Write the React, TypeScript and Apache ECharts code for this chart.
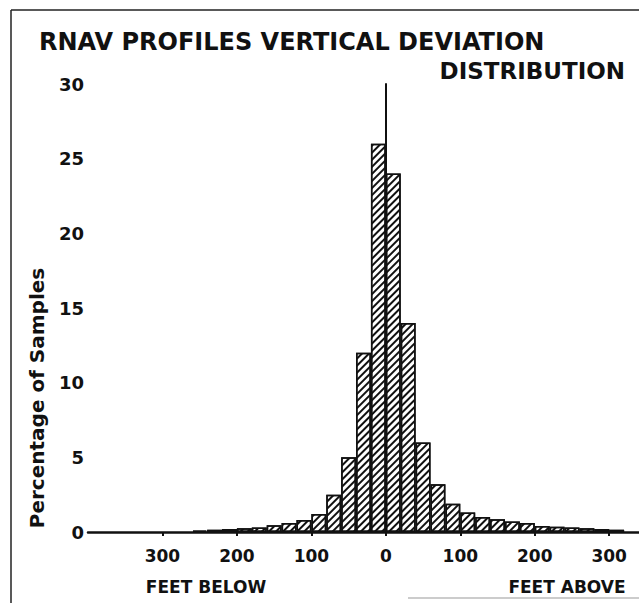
import React, { useEffect, useRef } from "react";
import * as echarts from "echarts";

// Bin centres (feet; negative = below profile), bin width 20 ft
const binCenters = [
  -250, -230, -210, -190, -170, -150, -130, -110, -90, -70, -50, -30, -10,
  10, 30, 50, 70, 90, 110, 130, 150, 170, 190, 210, 230, 250, 270, 290, 310,
];
// Percentage of samples in each bin
const percentages = [
  0.1, 0.15, 0.2, 0.25, 0.3, 0.45, 0.6, 0.8, 1.2, 2.5, 5, 12, 26,
  24, 14, 6, 3.2, 1.9, 1.3, 1.0, 0.85, 0.7, 0.6, 0.4, 0.35, 0.3, 0.25, 0.2, 0.15,
];
const xTicks = [-300, -200, -100, 0, 100, 200, 300];
const yTicks = [0, 5, 10, 15, 20, 25, 30];

const titleLine1 = "RNAV PROFILES VERTICAL DEVIATION";
const titleLine2 = "DISTRIBUTION";
const yName = "Percentage of Samples";
const belowLabel = "FEET BELOW";
const aboveLabel = "FEET ABOVE";

const FONT = "'DejaVu Sans', 'Liberation Sans', sans-serif";
const INK = "#111";

export default function App() {
  const ref = useRef<HTMLDivElement>(null);

  useEffect(() => {
    if (!ref.current) return;
    const chart = echarts.init(ref.current, undefined, { renderer: "svg" });
    const data = binCenters.map((c, i) => [c, percentages[i]]);
    chart.setOption({
      animation: false,
      backgroundColor: "#fff",
      grid: { left: 88, right: 0, top: 84, bottom: 71 },
      xAxis: {
        type: "value",
        min: -400,
        max: 340,
        interval: 100,
        axisLine: { show: true, lineStyle: { color: INK, width: 2.5 } },
        axisTick: {
          show: true,
          length: 4,
          lineStyle: { color: INK, width: 2 },
          customValues: xTicks,
        },
        axisLabel: {
          show: true,
          margin: 15,
          color: INK,
          fontFamily: FONT,
          fontWeight: "bold",
          fontSize: 17,
          customValues: xTicks,
          formatter: (v: number) => String(Math.abs(v)),
        },
        splitLine: { show: false },
      },
      yAxis: {
        type: "value",
        min: 0,
        max: 30,
        interval: 5,
        axisLine: { show: true, lineStyle: { color: INK, width: 2 } },
        axisTick: { show: false },
        axisLabel: {
          show: true,
          margin: 4,
          color: INK,
          fontFamily: FONT,
          fontWeight: "bold",
          fontSize: 18,
          customValues: yTicks,
        },
        splitLine: { show: false },
      },
      series: [
        {
          type: "bar",
          data,
          barCategoryGap: "0%",
          itemStyle: {
            color: "#fff",
            borderColor: INK,
            borderWidth: 1.5,
            decal: {
              symbol: "rect",
              symbolSize: 1,
              color: "#111",
              dashArrayX: [1, 0],
              dashArrayY: [1.6, 3],
              rotation: -Math.PI / 4,
            },
          },
          markLine: {
            silent: true,
            symbol: "none",
            label: { show: false },
            lineStyle: { color: INK, width: 1.8, type: "solid" },
            data: [[{ coord: [0, 0] }, { coord: [0, 30] }]],
          },
        },
      ],
      graphic: [
        {
          type: "line",
          shape: { x1: 11, y1: 10, x2: 11, y2: 603 },
          style: { stroke: "#222", lineWidth: 1.5 },
        },
        {
          type: "line",
          shape: { x1: 11, y1: 10, x2: 639, y2: 10 },
          style: { stroke: "#222", lineWidth: 1.5 },
        },
        {
          type: "line",
          shape: { x1: 408, y1: 598, x2: 639, y2: 598 },
          style: { stroke: "#999", lineWidth: 1 },
        },
        {
          type: "text",
          left: 39,
          top: 30,
          style: {
            text: titleLine1,
            fill: INK,
            font: `bold 24px ${FONT}`,
          },
        },
        {
          type: "text",
          right: 14,
          top: 59,
          style: {
            text: titleLine2,
            fill: INK,
            font: `bold 23px ${FONT}`,
          },
        },
        {
          type: "text",
          x: 37,
          y: 398,
          rotation: Math.PI / 2,
          style: {
            text: yName,
            fill: INK,
            font: `bold 20px ${FONT}`,
            align: "center",
            verticalAlign: "middle",
          },
        },
        {
          type: "text",
          x: 206,
          y: 587,
          style: {
            text: belowLabel,
            fill: INK,
            font: `bold 17px ${FONT}`,
            align: "center",
            verticalAlign: "middle",
          },
        },
        {
          type: "text",
          x: 567,
          y: 587,
          style: {
            text: aboveLabel,
            fill: INK,
            font: `bold 17px ${FONT}`,
            align: "center",
            verticalAlign: "middle",
          },
        },
      ],
    });
    return () => chart.dispose();
  }, []);

  return (
    <div
      ref={ref}
      style={{ position: "fixed", left: 0, top: 0, width: 639, height: 603 }}
    />
  );
}
